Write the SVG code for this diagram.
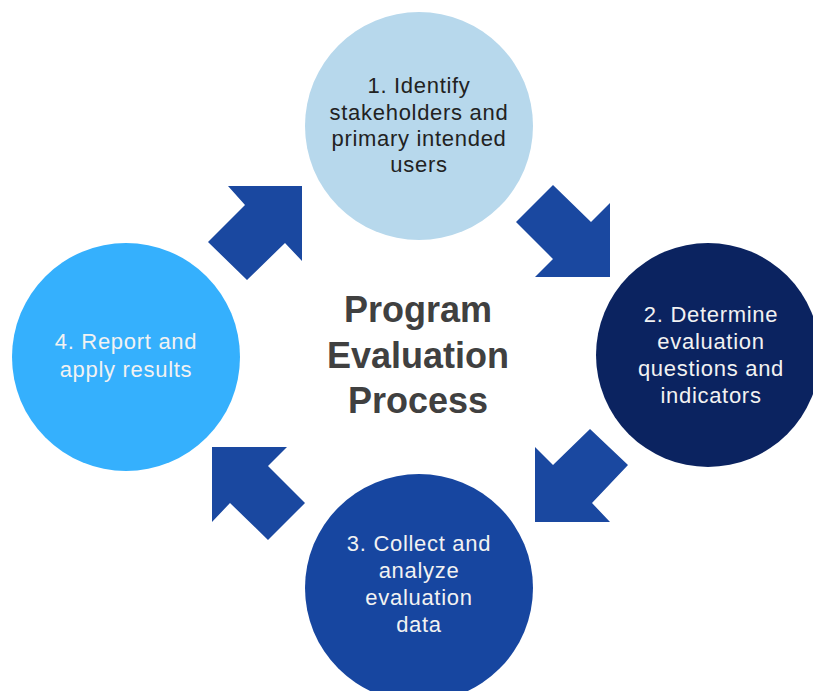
<svg xmlns="http://www.w3.org/2000/svg" width="813" height="691" viewBox="0 0 813 691">
  <style>
    .lbl { font-family: "Liberation Sans", Arial, sans-serif; font-size: 22px; letter-spacing: 0.7px; text-anchor: middle; }
    .dark { fill: #222222; }
    .light { fill: #f2f2f2; }
    .title { font-family: "Liberation Sans", Arial, sans-serif; font-size: 36px; font-weight: bold; fill: #404040; text-anchor: middle; }
    .arrow { fill: #1a48a0; }
  </style>
  <rect width="813" height="691" fill="#ffffff"/>
  <g id="connectors">
    <polygon class="arrow" points="228,186 302,186 302,261 285,243 247,280 208,242 245,205"/>
    <polygon class="arrow" points="610,277 610,203 591,222 553,185 516,222 553,259 535,277"/>
    <polygon class="arrow" points="535,522 535,447 553,465 590,429 628,465 592,503 610,522"/>
    <polygon class="arrow" points="212,447 287,447 268,466 305,503 268,540 230,503 212,522"/>
  </g>
  <g id="node1">
    <circle cx="419" cy="126" r="114" fill="#b7d8ec"/>
    <text class="lbl dark" x="419" y="93">1. Identify</text>
    <text class="lbl dark" x="419" y="120">stakeholders and</text>
    <text class="lbl dark" x="419" y="146">primary intended</text>
    <text class="lbl dark" x="419" y="172">users</text>
  </g>
  <g id="node2">
    <circle cx="708" cy="355" r="112" fill="#0b2360"/>
    <text class="lbl light" x="711" y="322">2. Determine</text>
    <text class="lbl light" x="711" y="349">evaluation</text>
    <text class="lbl light" x="711" y="376">questions and</text>
    <text class="lbl light" x="711" y="403">indicators</text>
  </g>
  <g id="node3">
    <circle cx="419" cy="588" r="114" fill="#1746a0"/>
    <text class="lbl light" x="419" y="551">3. Collect and</text>
    <text class="lbl light" x="419" y="578">analyze</text>
    <text class="lbl light" x="419" y="605">evaluation</text>
    <text class="lbl light" x="419" y="632">data</text>
  </g>
  <g id="node4">
    <circle cx="126" cy="357" r="114" fill="#35b0fd"/>
    <text class="lbl light" x="126" y="349">4. Report and</text>
    <text class="lbl light" x="126" y="377">apply results</text>
  </g>
  <g id="title">
    <text class="title" x="418" y="322">Program</text>
    <text class="title" x="418" y="368">Evaluation</text>
    <text class="title" x="418" y="413">Process</text>
  </g>
</svg>
